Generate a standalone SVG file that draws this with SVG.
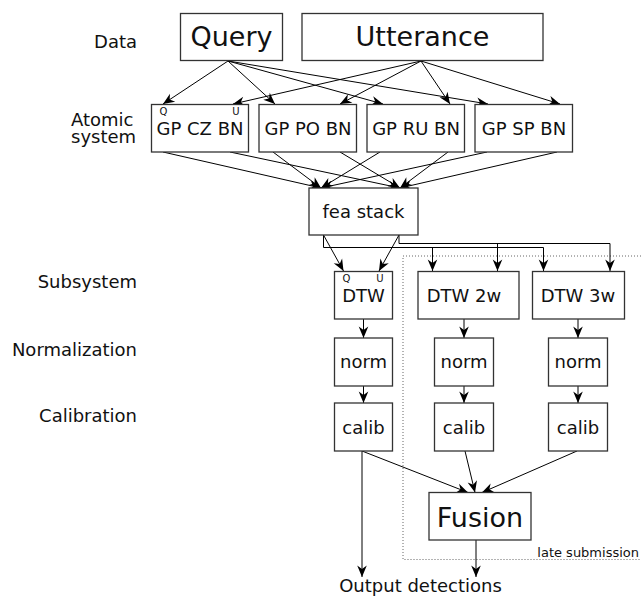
<svg xmlns="http://www.w3.org/2000/svg" width="641" height="596" viewBox="0 0 641 596">
<style>
text{font-family:"DejaVu Sans","Liberation Sans",sans-serif;fill:#111}
.box{fill:#fff;stroke:#333;stroke-width:1.3}
.lbl{font-size:18px;text-anchor:end}
.t18{font-size:18px;text-anchor:middle}
.t27{font-size:27px;text-anchor:middle}
.sm{font-size:10px;text-anchor:middle}
.c{fill:none;stroke:#000;stroke-width:1}
.a{marker-end:url(#ah)}
</style>
<defs>
<marker id="ah" markerUnits="userSpaceOnUse" markerWidth="14" markerHeight="12" viewBox="-12 -6 14 12" refX="0" refY="0" orient="auto">
<path d="M0,0 L-11.5,-4.8 L-8,0 L-11.5,4.8 Z" fill="#000"/>
</marker>
</defs>
<rect width="641" height="596" fill="#fff"/>
<g id="labels">
<text class="lbl" x="137" y="48">Data</text>
<text style="font-size:18px" x="71" y="126">Atomic</text>
<text style="font-size:18px" x="71" y="143">system</text>
<text class="lbl" x="137" y="288">Subsystem</text>
<text class="lbl" x="137" y="356">Normalization</text>
<text class="lbl" x="137" y="422">Calibration</text>
</g>
<g id="late-submission">
<rect x="403" y="256" width="250" height="303.5" fill="none" stroke="#666" stroke-width="1" stroke-dasharray="1,2"/>
<text style="font-size:13px;text-anchor:end" x="639" y="556.5">late submission</text>
</g>
<g id="connectors">
<path class="c a" d="M228,61 L163,104"/>
<path class="c a" d="M228,61 L275,104"/>
<path class="c a" d="M228,61 L383,104"/>
<path class="c a" d="M228,61 L488,104"/>
<path class="c a" d="M421,61 L233,104"/>
<path class="c a" d="M421,61 L340,104"/>
<path class="c a" d="M421,61 L450,104"/>
<path class="c a" d="M421,61 L560,104"/>
<path class="c a" d="M163,152 L321,188"/>
<path class="c a" d="M273,152 L321,188"/>
<path class="c a" d="M380,152 L321,188"/>
<path class="c a" d="M487,152 L321,188"/>
<path class="c a" d="M230,152 L400,188"/>
<path class="c a" d="M340,152 L400,188"/>
<path class="c a" d="M448,152 L400,188"/>
<path class="c a" d="M557,152 L400,188"/>
<path class="c a" d="M323.5,235 L343.5,271"/>
<path class="c a" d="M399,235 L379,271"/>
<path class="c" d="M323.5,235 V247.5 H543.5"/>
<path class="c a" d="M432.5,247.5 V271"/>
<path class="c a" d="M543.5,247.5 V271"/>
<path class="c" d="M399,235 V243.5 H610"/>
<path class="c a" d="M497.5,243.5 V271"/>
<path class="c a" d="M610,243.5 V271"/>
<path class="c a" d="M363.5,319 V338"/>
<path class="c a" d="M464,319 V338"/>
<path class="c a" d="M578,319 V338"/>
<path class="c a" d="M363.5,386 V403"/>
<path class="c a" d="M464,386 V403"/>
<path class="c a" d="M578,386 V403"/>
<path class="c a" d="M362,451 L468,492.5"/>
<path class="c a" d="M465,451 L475,492.5"/>
<path class="c a" d="M577,451 L482,492.5"/>
<path class="c a" d="M362,451 V577"/>
<path class="c a" d="M476,540 V577"/>
</g>
<g id="query"><rect class="box" x="180.5" y="13.5" width="102" height="47"/><text class="t27" x="231.5" y="46">Query</text></g>
<g id="utterance"><rect class="box" x="302" y="13.5" width="241" height="47"/><text class="t27" x="422.5" y="46">Utterance</text></g>
<g id="gp-cz-bn"><rect class="box" x="151.5" y="104.5" width="97" height="47.5"/><text class="t18" x="200" y="135">GP CZ BN</text><text class="sm" x="163.5" y="115">Q</text><text class="sm" x="236" y="115">U</text></g>
<g id="gp-po-bn"><rect class="box" x="259" y="104.5" width="97.5" height="47.5"/><text class="t18" x="308" y="135">GP PO BN</text></g>
<g id="gp-ru-bn"><rect class="box" x="367" y="104.5" width="97.5" height="47.5"/><text class="t18" x="416" y="135">GP RU BN</text></g>
<g id="gp-sp-bn"><rect class="box" x="475" y="104.5" width="97.5" height="47.5"/><text class="t18" x="524" y="135">GP SP BN</text></g>
<g id="fea-stack"><rect class="box" x="309" y="188" width="109" height="47"/><text class="t18" x="363.5" y="218">fea stack</text></g>
<g id="dtw"><rect class="box" x="334.5" y="271.5" width="58" height="47.5"/><text class="t18" x="363.5" y="302">DTW</text><text class="sm" x="346.5" y="282">Q</text><text class="sm" x="380" y="282">U</text></g>
<g id="dtw-2w"><rect class="box" x="418" y="271.5" width="101" height="47.5"/><text class="t18" x="464" y="302">DTW 2w</text></g>
<g id="dtw-3w"><rect class="box" x="532.5" y="271.5" width="92" height="47.5"/><text class="t18" x="578" y="302">DTW 3w</text></g>
<g id="norm-1"><rect class="box" x="334.5" y="338" width="58" height="48"/><text class="t18" x="363.5" y="368">norm</text></g>
<g id="norm-2"><rect class="box" x="434.5" y="338" width="59" height="48"/><text class="t18" x="464" y="368">norm</text></g>
<g id="norm-3"><rect class="box" x="548.5" y="338" width="59" height="48"/><text class="t18" x="578" y="368">norm</text></g>
<g id="calib-1"><rect class="box" x="334.5" y="403" width="58" height="48"/><text class="t18" x="363.5" y="434">calib</text></g>
<g id="calib-2"><rect class="box" x="434.5" y="403" width="59" height="48"/><text class="t18" x="464" y="434">calib</text></g>
<g id="calib-3"><rect class="box" x="548.5" y="403" width="59" height="48"/><text class="t18" x="578" y="434">calib</text></g>
<g id="fusion"><rect class="box" x="429" y="492.5" width="102" height="47.5"/><text class="t27" x="480" y="527">Fusion</text></g>
<g id="output"><text class="t18" x="420.5" y="592">Output detections</text></g>
</svg>
